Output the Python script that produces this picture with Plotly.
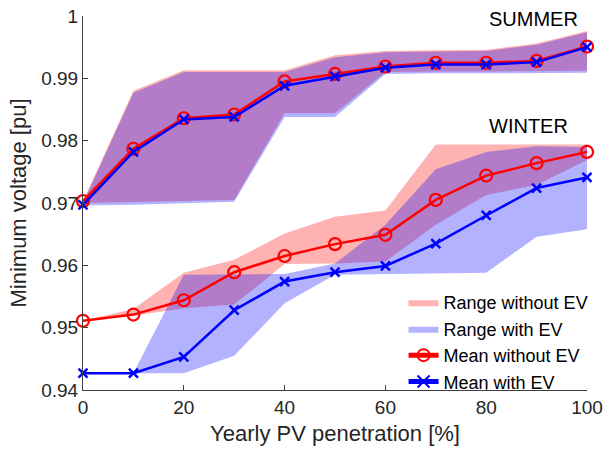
import plotly.graph_objects as go

pv = [0, 10, 20, 30, 40, 50, 60, 70, 80, 90, 100]

# SUMMER
summer_mean_no_ev = [0.9703, 0.9787, 0.9836, 0.9842, 0.9895, 0.9907, 0.9919, 0.9925, 0.9925, 0.9928, 0.9951]
summer_mean_ev    = [0.9697, 0.9782, 0.9834, 0.9838, 0.9888, 0.9903, 0.9917, 0.9922, 0.9922, 0.9926, 0.9950]
summer_max_no_ev  = [0.9703, 0.9880, 0.9913, 0.9913, 0.9913, 0.9937, 0.9944, 0.9945, 0.9946, 0.9956, 0.9976]
summer_min_no_ev  = [0.9700, 0.9701, 0.9703, 0.9705, 0.9844, 0.9844, 0.9910, 0.9911, 0.9911, 0.9911, 0.9912]
summer_max_ev     = [0.9700, 0.9877, 0.9910, 0.9910, 0.9910, 0.9934, 0.9942, 0.9943, 0.9944, 0.9954, 0.9974]
summer_min_ev     = [0.9696, 0.9697, 0.9699, 0.9702, 0.9838, 0.9838, 0.9907, 0.9908, 0.9908, 0.9908, 0.9909]

# WINTER
winter_mean_no_ev = [0.9511, 0.9521, 0.9544, 0.9589, 0.9615, 0.9634, 0.9649, 0.9705, 0.9744, 0.9764, 0.9782]
winter_mean_ev    = [0.9427, 0.9427, 0.9453, 0.9528, 0.9574, 0.9589, 0.9599, 0.9635, 0.9680, 0.9724, 0.9741]
winter_max_no_ev  = [0.9511, 0.9530, 0.9588, 0.9609, 0.9651, 0.9678, 0.9688, 0.9794, 0.9794, 0.9794, 0.9794]
winter_min_no_ev  = [0.9511, 0.9519, 0.9531, 0.9537, 0.9602, 0.9603, 0.9606, 0.9665, 0.9713, 0.9729, 0.9769]
winter_max_ev     = [0.9427, 0.9427, 0.9585, 0.9585, 0.9586, 0.9603, 0.9665, 0.9754, 0.9782, 0.9791, 0.9790]
winter_min_ev     = [0.9427, 0.9427, 0.9427, 0.9455, 0.9539, 0.9585, 0.9586, 0.9587, 0.9588, 0.9646, 0.9658]

x_ticks = [0, 20, 40, 60, 80, 100]
y_ticks = [0.94, 0.95, 0.96, 0.97, 0.98, 0.99, 1.0]
y_tick_labels = ["0.94", "0.95", "0.96", "0.97", "0.98", "0.99", "1"]

FONT = "Liberation Sans, Arial, sans-serif"
TXT = "#262626"


def band(lo1, hi1, lo2, hi2):
    xs = pv + pv[::-1] + [None] + pv + pv[::-1]
    ys = hi1 + lo1[::-1] + [None] + hi2 + lo2[::-1]
    return xs, ys


def joined(a, b):
    return pv + [None] + pv, a + [None] + b


fig = go.Figure()

bx, by = band(summer_min_no_ev, summer_max_no_ev, winter_min_no_ev, winter_max_no_ev)
fig.add_trace(go.Scatter(x=bx, y=by, fill="toself", fillcolor="rgba(255,0,0,0.3)",
                         line=dict(width=0), mode="lines", name="Range without EV",
                         hoverinfo="skip"))
bx, by = band(summer_min_ev, summer_max_ev, winter_min_ev, winter_max_ev)
fig.add_trace(go.Scatter(x=bx, y=by, fill="toself", fillcolor="rgba(0,0,255,0.3)",
                         line=dict(width=0), mode="lines", name="Range with EV",
                         hoverinfo="skip"))

mx, my = joined(summer_mean_no_ev, winter_mean_no_ev)
fig.add_trace(go.Scatter(x=mx, y=my, mode="lines+markers", name="Mean without EV",
                         line=dict(color="#ff0000", width=2.5),
                         marker=dict(symbol="circle-open", size=12, color="#ff0000",
                                     line=dict(width=2.2, color="#ff0000")),
                         cliponaxis=False, connectgaps=False))
mx, my = joined(summer_mean_ev, winter_mean_ev)
fig.add_trace(go.Scatter(x=mx, y=my, mode="lines+markers", name="Mean with EV",
                         line=dict(color="#0000ff", width=2.5),
                         marker=dict(symbol="x-thin", size=9, color="#0000ff",
                                     line=dict(width=2.5, color="#0000ff")),
                         cliponaxis=False, connectgaps=False))

fig.add_annotation(x=89.3, y=0.9995, text="SUMMER", showarrow=False,
                   font=dict(family=FONT, size=20, color="#000000"), xanchor="center", yanchor="middle")
fig.add_annotation(x=88.3, y=0.9824, text="WINTER", showarrow=False,
                   font=dict(family=FONT, size=20, color="#000000"), xanchor="center", yanchor="middle")

fig.update_layout(
    width=604, height=456,
    margin=dict(l=83, r=17, t=16, b=66, autoexpand=False),
    paper_bgcolor="white", plot_bgcolor="white",
    font=dict(family=FONT, size=19, color=TXT),
    showlegend=True,
    legend=dict(x=0.636, y=0.283, xanchor="left", yanchor="top",
                bgcolor="rgba(0,0,0,0)", borderwidth=0,
                font=dict(family=FONT, size=18, color="#000000"),
                tracegroupgap=0, itemsizing="constant"),
    xaxis=dict(range=[0, 100], tickvals=x_ticks, ticks="inside", ticklen=5,
               tickcolor="#404040", showline=True, linecolor="#404040", linewidth=1,
               showgrid=False, zeroline=False, mirror=False, automargin=False,
               title=dict(text="Yearly PV penetration [%]", font=dict(size=22, color=TXT), standoff=8),
               tickfont=dict(size=19, color=TXT)),
    yaxis=dict(range=[0.94, 1.0], tickvals=y_ticks, ticktext=y_tick_labels,
               ticks="inside", ticklen=5, tickcolor="#404040",
               showline=True, linecolor="#404040", linewidth=1,
               showgrid=False, zeroline=False, mirror=False, automargin=False,
               title=dict(text="Minimum voltage [pu]", font=dict(size=22, color=TXT), standoff=8),
               tickfont=dict(size=19, color=TXT)),
)

fig.write_html("out.html", config={"displayModeBar": False},
               post_script="document.body.style.margin='0';document.body.style.padding='0';")
